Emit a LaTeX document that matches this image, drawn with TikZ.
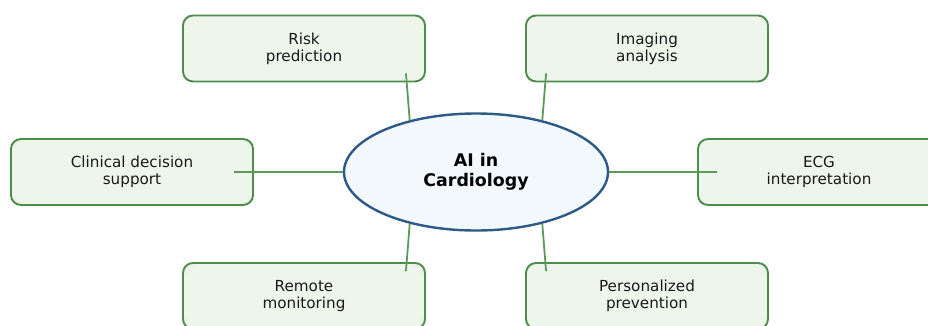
\documentclass[tikz,border=0pt]{standalone}
\usepackage{fontspec}
\setmainfont{DejaVu Sans}
\usetikzlibrary{shapes.geometric}
\definecolor{boxfill}{HTML}{EEF6EC}
\definecolor{boxline}{HTML}{4E8C4C}
\definecolor{linkcol}{HTML}{5C9A5A}
\definecolor{hubfill}{HTML}{F3F8FD}
\definecolor{hubline}{HTML}{2E5A86}
\begin{document}
\begin{tikzpicture}[x=1pt,y=-1pt,
  topic/.style={draw=boxline,fill=boxfill,line width=1.9pt,rounded corners=10pt,
    minimum width=242pt,minimum height=66pt,inner sep=0pt,align=center,
    font=\fontsize{15.2}{17}\selectfont,text=black!90},
  hub/.style={ellipse,draw=hubline,fill=hubfill,line width=2.4pt,
    minimum width=264pt,minimum height=117pt,inner sep=0pt,align=center,
    font=\fontsize{17.4}{20}\selectfont\bfseries},
  link/.style={draw=linkcol,line width=1.8pt}]
\clip (0,0) rectangle (928,325);
\fill[white] (0,0) rectangle (928,325);

% outer topics
\node[topic] (risk)  at (304,48.5)  {Risk\\prediction};
\node[topic] (img)   at (647,48.5)  {Imaging\\analysis};
\node[topic] (cds)   at (132,172) {Clinical decision\\support};
\node[topic] (ecg)   at (819,172) {ECG\\interpretation};
\node[topic] (remote) at (304,296) {Remote\\monitoring};
\node[topic] (prev)  at (647,296) {Personalized\\prevention};

% connector ends inside the topic boxes
\coordinate (riskE)   at ([shift={(-20,-9)}]risk.south east);
\coordinate (imgE)    at ([shift={(21,-9)}]img.south west);
\coordinate (cdsE)    at ([shift={(-20,0)}]cds.east);
\coordinate (ecgE)    at ([shift={(20,0)}]ecg.west);
\coordinate (remoteE) at ([shift={(-20,9)}]remote.north east);
\coordinate (prevE)   at ([shift={(21,9)}]prev.north west);

% central topic
\node[hub] (hub) at (476,172) {AI in\\Cardiology};

% spokes
\draw[link] (riskE) -- (hub.142);
\draw[link] (imgE) -- (hub.38);
\draw[link] (cdsE) -- (hub.180);
\draw[link] (ecgE) -- (hub.0);
\draw[link] (remoteE) -- (hub.218);
\draw[link] (prevE) -- (hub.322);
\end{tikzpicture}
\end{document}
